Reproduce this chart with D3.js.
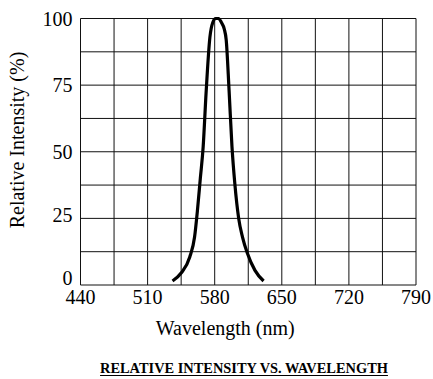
<!DOCTYPE html>
<html>
<head>
<meta charset="utf-8">
<script src="https://cdn.jsdelivr.net/npm/d3@7"></script>
<style>
  html, body { margin: 0; padding: 0; background: #fff; }
  svg { display: block; }
  text { font-family: "Liberation Serif", "Times New Roman", serif; fill: #000; }
</style>
</head>
<body>
<div id="chart"></div>
<script>
// data
const wavelength = [536, 545, 554, 559, 562, 565, 568, 571, 575, 578, 581, 584, 587, 590, 592, 595, 598, 601, 605, 609, 614, 622, 631];
const intensity  = [1.5, 4.5, 10.5, 18, 28, 40, 52, 72, 93, 98.5, 100, 100, 98.5, 96, 92, 73, 52, 38, 25, 18, 12, 5.5, 1.5];
const xTicks = [440, 510, 580, 650, 720, 790];
const yTicks = [0, 25, 50, 75, 100];

const W = 433, H = 379;
const margin = { top: 18.5, right: 17, bottom: 94, left: 80.5 };
const width = W - margin.left - margin.right;
const height = H - margin.top - margin.bottom;

const svg = d3.select('#chart')
  .append('svg')
  .attr('width', W)
  .attr('height', H);

const g = svg.append('g')
  .attr('transform', `translate(${margin.left},${margin.top})`);

const x = d3.scaleLinear().domain([440, 790]).range([0, width]);
const y = d3.scaleLinear().domain([0, 100]).range([height, 0]);

// grid: every half tick step
g.selectAll('.vgrid')
  .data(d3.range(440, 791, 35))
  .enter().append('line')
  .attr('class', 'vgrid')
  .attr('x1', d => x(d)).attr('x2', d => x(d))
  .attr('y1', 0).attr('y2', height)
  .attr('stroke', '#111').attr('stroke-width', 1);

g.selectAll('.hgrid')
  .data(d3.range(0, 100.1, 12.5))
  .enter().append('line')
  .attr('class', 'hgrid')
  .attr('x1', 0).attr('x2', width)
  .attr('y1', d => y(d)).attr('y2', d => y(d))
  .attr('stroke', '#111').attr('stroke-width', 1);

// tick labels
g.selectAll('.xlabel')
  .data(xTicks)
  .enter().append('text')
  .attr('class', 'xlabel')
  .attr('x', d => x(d))
  .attr('y', height + 19)
  .attr('text-anchor', 'middle')
  .style('font-size', '20px')
  .text(d => d);

g.selectAll('.ylabel')
  .data(yTicks)
  .enter().append('text')
  .attr('class', 'ylabel')
  .attr('x', -8)
  .attr('y', d => y(d) + (d === 0 ? -7 : (d === 25 ? -3 : 0)))
  .attr('dy', '0.35em')
  .attr('text-anchor', 'end')
  .style('font-size', '20px')
  .text(d => d);

// spectrum curve
const line = d3.line()
  .x((d, i) => x(wavelength[i]))
  .y(d => y(d))
  .curve(d3.curveMonotoneX);

g.append('path')
  .datum(intensity)
  .attr('d', line)
  .attr('fill', 'none')
  .attr('stroke', '#000')
  .attr('stroke-width', 3.2)
  .attr('stroke-linejoin', 'round')
  .attr('stroke-linecap', 'butt');

// axis titles
svg.append('text')
  .attr('x', margin.left + width / 2 - 23)
  .attr('y', 335)
  .attr('text-anchor', 'middle')
  .style('font-size', '20px')
  .text('Wavelength (nm)');

svg.append('text')
  .attr('transform', 'translate(24,140) rotate(-90)')
  .attr('text-anchor', 'middle')
  .style('font-size', '20px')
  .text('Relative Intensity (%)');

// caption
const cap = svg.append('text')
  .attr('x', 244)
  .attr('y', 373)
  .attr('text-anchor', 'middle')
  .style('font-size', '14.4px')
  .style('font-weight', 'bold')
  .text('RELATIVE INTENSITY VS. WAVELENGTH');

const bb = cap.node().getBBox();
svg.append('line')
  .attr('x1', bb.x).attr('x2', bb.x + bb.width)
  .attr('y1', 375.5).attr('y2', 375.5)
  .attr('stroke', '#000').attr('stroke-width', 1);
</script>
</body>
</html>
